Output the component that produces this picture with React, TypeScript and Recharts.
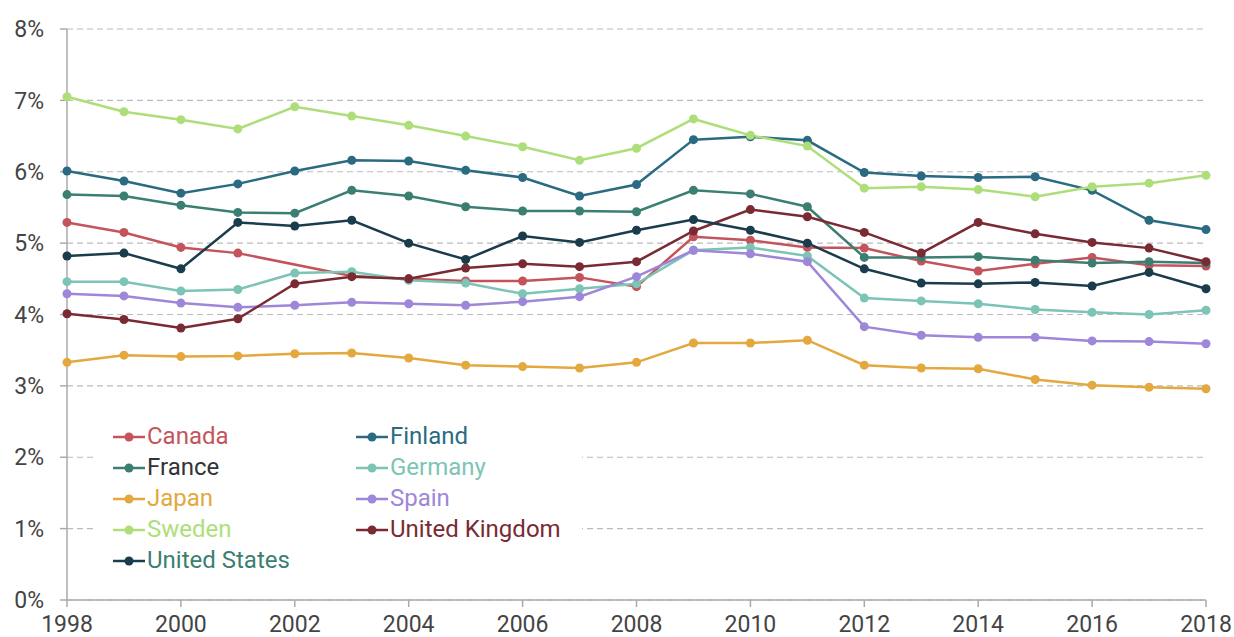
import React from "react";
import { LineChart, Line, XAxis, YAxis, CartesianGrid } from "recharts";

const years = [1998, 1999, 2000, 2001, 2002, 2003, 2004, 2005, 2006, 2007, 2008, 2009, 2010, 2011, 2012, 2013, 2014, 2015, 2016, 2017, 2018];

const canada = [5.29, 5.15, 4.94, 4.86, null, 4.54, 4.5, 4.47, 4.47, 4.52, 4.39, 5.09, 5.04, 4.94, 4.93, 4.75, 4.61, 4.71, 4.8, 4.69, 4.68];
const finland = [6.01, 5.87, 5.7, 5.83, 6.01, 6.16, 6.15, 6.02, 5.92, 5.66, 5.82, 6.45, 6.49, 6.44, 5.99, 5.94, 5.92, 5.93, 5.74, 5.32, 5.19];
const france = [5.68, 5.66, 5.53, 5.43, 5.42, 5.74, 5.66, 5.51, 5.45, 5.45, 5.44, 5.74, 5.69, 5.51, 4.8, 4.8, 4.81, 4.76, 4.72, 4.74, 4.72];
const germany = [4.46, 4.46, 4.33, 4.35, 4.58, 4.6, 4.48, 4.44, 4.29, 4.36, 4.43, 4.9, 4.94, 4.82, 4.23, 4.19, 4.15, 4.07, 4.03, 4.0, 4.06];
const japan = [3.33, 3.43, 3.41, 3.42, 3.45, 3.46, 3.39, 3.29, 3.27, 3.25, 3.33, 3.6, 3.6, 3.64, 3.29, 3.25, 3.24, 3.09, 3.01, 2.98, 2.96];
const spain = [4.29, 4.26, 4.16, 4.1, 4.13, 4.17, 4.15, 4.13, 4.18, 4.25, 4.53, 4.9, 4.85, 4.74, 3.83, 3.71, 3.68, 3.68, 3.63, 3.62, 3.59];
const sweden = [7.05, 6.84, 6.73, 6.6, 6.91, 6.78, 6.65, 6.5, 6.35, 6.16, 6.33, 6.74, 6.51, 6.36, 5.77, 5.79, 5.75, 5.65, 5.79, 5.84, 5.95];
const uk = [4.01, 3.93, 3.81, 3.94, 4.43, 4.53, 4.5, 4.65, 4.71, 4.67, 4.74, 5.17, 5.47, 5.37, 5.15, 4.86, 5.29, 5.13, 5.01, 4.93, 4.74];
const us = [4.82, 4.86, 4.64, 5.29, 5.24, 5.32, 5.0, 4.77, 5.1, 5.01, 5.18, 5.33, 5.18, 5.0, 4.64, 4.44, 4.43, 4.45, 4.4, 4.59, 4.36];

const xTicks = [1998, 2000, 2002, 2004, 2006, 2008, 2010, 2012, 2014, 2016, 2018];
const yTicks = [0, 1, 2, 3, 4, 5, 6, 7, 8];

const series = [
  { key: "canada", name: "Canada", values: canada, color: "#c4545c", text: "#c4545c" },
  { key: "finland", name: "Finland", values: finland, color: "#2a6b82", text: "#2a6b82" },
  { key: "france", name: "France", values: france, color: "#3b7f72", text: "#333333" },
  { key: "germany", name: "Germany", values: germany, color: "#7cc4b5", text: "#7cc4b5" },
  { key: "japan", name: "Japan", values: japan, color: "#e3a83e", text: "#e3a83e" },
  { key: "spain", name: "Spain", values: spain, color: "#9e86d8", text: "#9e86d8" },
  { key: "sweden", name: "Sweden", values: sweden, color: "#aede7a", text: "#aede7a" },
  { key: "uk", name: "United Kingdom", values: uk, color: "#7a2a33", text: "#7a2a33" },
  { key: "us", name: "United States", values: us, color: "#1a3c4c", text: "#3b7f72" },
];

const data = years.map((year, i) => {
  const row: Record<string, number | null> = { year };
  series.forEach((s) => {
    row[s.key] = s.values[i];
  });
  return row;
});

const FONT = "Roboto, 'Noto Sans', sans-serif";

function LegendItem({ s }: { s: (typeof series)[number] }) {
  return (
    <div style={{ display: "flex", alignItems: "center", height: 31 }}>
      <svg width={32} height={12} style={{ marginRight: 2 }}>
        <line x1={0} y1={6} x2={32} y2={6} stroke={s.color} strokeWidth={2.5} />
        <circle cx={16} cy={6} r={4.5} fill={s.color} />
      </svg>
      <span style={{ color: s.text, fontSize: 24, fontFamily: FONT, lineHeight: "31px", whiteSpace: "nowrap" }}>{s.name}</span>
    </div>
  );
}

export default function App() {
  const col1 = series.filter((_, i) => i % 2 === 0);
  const col2 = series.filter((_, i) => i % 2 === 1);
  return (
    <div style={{ position: "fixed", left: 0, top: 0, width: 1234, height: 637, overflow: "hidden", background: "#ffffff", fontFamily: FONT }}>
      <LineChart width={1234} height={637} data={data} margin={{ top: 29, right: 28, bottom: 0, left: 0 }}>
        <CartesianGrid horizontal vertical={false} stroke="#bbbbbb" strokeDasharray="6 4" strokeWidth={1.2} />
        <XAxis
          dataKey="year"
          type="number"
          domain={[1998, 2018]}
          ticks={xTicks}
          height={37}
          tickSize={7}
          tickMargin={9}
          axisLine={{ stroke: "#aaaaaa", strokeWidth: 1.5 }}
          tickLine={{ stroke: "#aaaaaa", strokeWidth: 1.5 }}
          tick={{ fill: "#444444", fontSize: 23, fontFamily: FONT }}
          interval={0}
        />
        <YAxis
          type="number"
          domain={[0, 8]}
          ticks={yTicks}
          width={67}
          tickSize={7}
          tickMargin={16}
          tickFormatter={(v: number) => `${v}%`}
          axisLine={{ stroke: "#aaaaaa", strokeWidth: 1.5 }}
          tickLine={{ stroke: "#aaaaaa", strokeWidth: 1.5 }}
          tick={{ fill: "#444444", fontSize: 23, fontFamily: FONT }}
          interval={0}
        />
        {series.map((s) => (
          <Line
            key={s.key}
            dataKey={s.key}
            name={s.name}
            stroke={s.color}
            strokeWidth={2.5}
            dot={{ r: 4.5, fill: s.color, stroke: "none" }}
            activeDot={false}
            connectNulls
            isAnimationActive={false}
          />
        ))}
      </LineChart>
      <div
        style={{
          position: "absolute",
          left: 97,
          top: 415,
          width: 485,
          height: 163,
          background: "#ffffff",
        }}
      >
        <div style={{ position: "absolute", left: 16, top: 6 }}>
          {col1.map((s) => (
            <LegendItem key={s.key} s={s} />
          ))}
        </div>
        <div style={{ position: "absolute", left: 259, top: 6 }}>
          {col2.map((s) => (
            <LegendItem key={s.key} s={s} />
          ))}
        </div>
      </div>
    </div>
  );
}
